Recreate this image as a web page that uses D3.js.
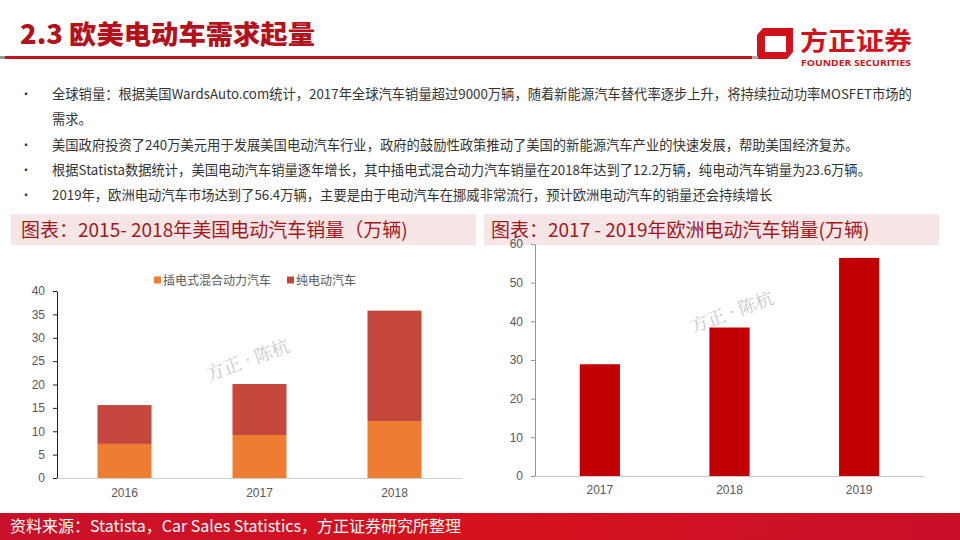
<!DOCTYPE html>
<html>
<head>
<meta charset="utf-8">
<script src="https://cdn.jsdelivr.net/npm/d3@7"></script>
<style>
  body { margin: 0; background: #fff; }
  svg { display: block; }
</style>
</head>
<body>
<script>
// data
const usYears = ['2016', '2017', '2018'];
const usPhev = [7.3, 9.2, 12.2];   // 插电式混合动力汽车
const usBev = [8.3, 10.9, 23.6];   // 纯电动汽车
const usTicks = [0, 5, 10, 15, 20, 25, 30, 35, 40];
const euYears = ['2017', '2018', '2019'];
const euSales = [28.9, 38.4, 56.4];
const euTicks = [0, 10, 20, 30, 40, 50, 60];
const seriesNames = ['插电式混合动力汽车', '纯电动汽车'];
const bullets = [
  ['全球销量：根据美国WardsAuto.com统计，2017年全球汽车销量超过9000万辆，随着新能源汽车替代率逐步上升，将持续拉动功率MOSFET市场的', '需求。'],
  ['美国政府投资了240万美元用于发展美国电动汽车行业，政府的鼓励性政策推动了美国的新能源汽车产业的快速发展，帮助美国经济复苏。'],
  ['根据Statista数据统计，美国电动汽车销量逐年增长，其中插电式混合动力汽车销量在2018年达到了12.2万辆，纯电动汽车销量为23.6万辆。'],
  ['2019年，欧洲电动汽车市场达到了56.4万辆，主要是由于电动汽车在挪威非常流行，预计欧洲电动汽车的销量还会持续增长']
];

const cjk = '"Noto Sans CJK SC", "Noto Sans", sans-serif';
const num = '"Liberation Sans", Arial, sans-serif';
const darkRed = '#b3121c';

const svg = d3.select('body').append('svg')
  .attr('width', 960)
  .attr('height', 540);

// header
svg.append('text')
  .attr('x', 20).attr('y', 44)
  .attr('font-family', cjk).attr('font-size', 26).attr('font-weight', 900)
  .attr('fill', darkRed)
  .attr('textLength', 295).attr('lengthAdjust', 'spacingAndGlyphs')
  .text('2.3 欧美电动车需求起量');

svg.append('rect').attr('x', 0).attr('y', 56).attr('width', 760).attr('height', 3).attr('fill', '#c3161f');
svg.append('rect').attr('x', 0).attr('y', 56).attr('width', 5).attr('height', 3).attr('fill', '#999');

// logo
const logo = svg.append('g');
logo.append('path')
  .attr('d', 'M763,28 L793,28 L793,52 L787,59 L757,59 L757,35 Z M765,36 L765,52 L786,52 L786,36 Z')
  .attr('fill', '#d2121b').attr('fill-rule', 'evenodd');
logo.append('rect').attr('x', 752).attr('y', 56).attr('width', 6).attr('height', 3).attr('fill', '#aaa');
logo.append('text')
  .attr('x', 800).attr('y', 50)
  .attr('font-family', cjk).attr('font-size', 25).attr('font-weight', 'bold')
  .attr('fill', '#d2121b')
  .attr('textLength', 112).attr('lengthAdjust', 'spacingAndGlyphs')
  .text('方正证券');
logo.append('text')
  .attr('x', 801).attr('y', 66)
  .attr('font-family', '"Open Sans", sans-serif').attr('font-size', 8.5).attr('font-weight', 'bold')
  .attr('fill', '#d2121b')
  .attr('textLength', 110).attr('lengthAdjust', 'spacingAndGlyphs')
  .text('FOUNDER SECURITIES');

// bullets
let li = 0;
bullets.forEach(b => {
  b.forEach((line, j) => {
    const y = 99 + li * 25.3;
    if (j === 0) {
      svg.append('text').attr('x', 20).attr('y', y)
        .attr('font-family', cjk).attr('font-size', 12).attr('fill', '#333')
        .text('•');
    }
    svg.append('text').attr('x', 52).attr('y', y)
      .attr('font-family', cjk).attr('font-size', 13.3).attr('fill', '#333')
      .text(line);
    li++;
  });
});

// chart title boxes
const titles = [
  { x: 11, w: 465, tx: 21, text: '图表：2015- 2018年美国电动汽车销量（万辆)' },
  { x: 484, w: 455, tx: 491, text: '图表：2017 - 2019年欧洲电动汽车销量(万辆)' }
];
titles.forEach(t => {
  svg.append('rect').attr('x', t.x).attr('y', 214).attr('width', t.w).attr('height', 31).attr('fill', '#f7e6e6');
  svg.append('text').attr('x', t.tx).attr('y', 237)
    .attr('font-family', cjk).attr('font-size', 19).attr('fill', '#a3161d')
    .text(t.text);
});

// left chart: stacked bars
const xL = d3.scaleBand().domain(usYears).range([57, 462]).paddingInner(0.6).paddingOuter(0.3);
const yL = d3.scaleLinear().domain([0, 40]).range([478, 291]);
const stackData = usYears.map((y, i) => ({ year: y, phev: usPhev[i], bev: usBev[i] }));
const stacked = d3.stack().keys(['phev', 'bev'])(stackData);
const colorsL = ['#ef7d31', '#c4463c'];

svg.append('g').selectAll('g')
  .data(stacked)
  .join('g')
  .attr('fill', (d, i) => colorsL[i])
  .selectAll('rect')
  .data(d => d)
  .join('rect')
  .attr('x', d => xL(d.data.year))
  .attr('width', xL.bandwidth())
  .attr('y', d => yL(d[1]))
  .attr('height', d => yL(d[0]) - yL(d[1]));

const axL = svg.append('g').attr('transform', 'translate(57,0)')
  .call(d3.axisLeft(yL).tickValues(usTicks).tickSize(4).tickSizeOuter(0).tickPadding(8));
axL.select('.domain').attr('stroke', '#222');
axL.selectAll('.tick line').attr('stroke', '#222');
axL.selectAll('text').attr('font-family', num).attr('font-size', 12).attr('fill', '#595959');

const axLx = svg.append('g').attr('transform', 'translate(0,478)')
  .call(d3.axisBottom(xL).tickSize(0).tickPadding(10));
axLx.select('.domain').attr('stroke', '#d0d0d0').attr('d', 'M57,0.5H462');
axLx.selectAll('text').attr('font-family', num).attr('font-size', 12).attr('fill', '#595959');

// legend
const leg = svg.append('g').attr('transform', 'translate(154,280)');
const legX = [0, 133];
seriesNames.forEach((n, i) => {
  leg.append('rect').attr('x', legX[i]).attr('y', -3.5).attr('width', 7).attr('height', 7).attr('fill', colorsL[i]);
  leg.append('text').attr('x', legX[i] + 9).attr('y', 4.5)
    .attr('font-family', cjk).attr('font-size', 12).attr('fill', '#595959')
    .text(n);
});

// right chart
const xR = d3.scaleBand().domain(euYears).range([535, 924]).paddingInner(0.69).paddingOuter(0.345);
const yR = d3.scaleLinear().domain([0, 60]).range([476, 244]);

svg.append('g').selectAll('rect')
  .data(euSales)
  .join('rect')
  .attr('x', (d, i) => xR(euYears[i]))
  .attr('width', xR.bandwidth())
  .attr('y', d => yR(d))
  .attr('height', d => yR(0) - yR(d))
  .attr('fill', '#c00000');

const axR = svg.append('g').attr('transform', 'translate(535,0)')
  .call(d3.axisLeft(yR).tickValues(euTicks).tickSize(4).tickSizeOuter(0).tickPadding(8));
axR.select('.domain').attr('stroke', '#8497b0');
axR.selectAll('.tick line').attr('stroke', '#8497b0');
axR.selectAll('text').attr('font-family', num).attr('font-size', 12).attr('fill', '#595959');

const axRx = svg.append('g').attr('transform', 'translate(0,476)')
  .call(d3.axisBottom(xR).tickSize(0).tickPadding(9));
axRx.select('.domain').attr('stroke', '#c8c8c8').attr('d', 'M535,0.5H924');
axRx.selectAll('text').attr('font-family', num).attr('font-size', 12).attr('fill', '#595959');

// watermarks
[[250, 366], [734, 318]].forEach(p => {
  svg.append('text')
    .attr('transform', `translate(${p[0]},${p[1]}) rotate(-20)`)
    .attr('text-anchor', 'middle')
    .attr('font-family', '"Noto Serif CJK SC", "Noto Sans CJK SC", serif')
    .attr('font-size', 18).attr('fill', '#c8c8c8')
    .text('方正 · 陈杭');
});

// footer
const grad = svg.append('defs').append('linearGradient').attr('id', 'foot');
grad.append('stop').attr('offset', '0%').attr('stop-color', '#c8102a');
grad.append('stop').attr('offset', '50%').attr('stop-color', '#d6121e');
grad.append('stop').attr('offset', '100%').attr('stop-color', '#c80f28');
svg.append('rect').attr('x', 0).attr('y', 513).attr('width', 960).attr('height', 27).attr('fill', 'url(#foot)');
svg.append('text').attr('x', 10).attr('y', 532)
  .attr('font-family', cjk).attr('font-size', 16).attr('fill', '#fff')
  .text('资料来源：Statista，Car Sales Statistics，方正证券研究所整理');
</script>
</body>
</html>
